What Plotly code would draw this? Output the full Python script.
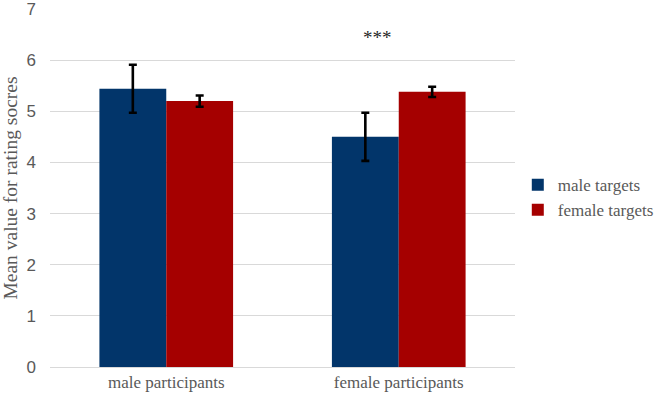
import plotly.graph_objects as go

categories = ["male participants", "female participants"]
series_names = ["male targets", "female targets"]
male_targets = [5.44, 4.50]
female_targets = [5.20, 5.38]
male_err = [0.47, 0.47]
female_err = [0.11, 0.10]
y_ticks = [0, 1, 2, 3, 4, 5, 6, 7]

SERIF = "Liberation Serif, Times New Roman, serif"
SANS = "Liberation Sans, Arial, sans-serif"

fig = go.Figure()
fig.add_trace(go.Bar(
    x=categories, y=male_targets, name=series_names[0],
    marker=dict(color="#02356A", line=dict(width=0)),
    error_y=dict(type="data", array=male_err, color="black", thickness=2.6, width=4),
))
fig.add_trace(go.Bar(
    x=categories, y=female_targets, name=series_names[1],
    marker=dict(color="#A50000", line=dict(width=0)),
    error_y=dict(type="data", array=female_err, color="black", thickness=2.6, width=4),
))

fig.add_annotation(x=categories[1], y=6.45, text="***", showarrow=False,
                   xshift=-21, font=dict(family=SERIF, size=19, color="#262626"))

fig.update_layout(
    width=660, height=400,
    margin=dict(l=50, r=145, t=9, b=33, autoexpand=False),
    plot_bgcolor="white", paper_bgcolor="white",
    barmode="group", bargap=0.425, bargroupgap=0,
    showlegend=True,
    legend=dict(x=1.006, xref="paper", xanchor="left", y=0.473, yanchor="middle",
                font=dict(family=SERIF, size=17, color="#595959"),
                tracegroupgap=14, itemwidth=30),
    xaxis=dict(showline=True, linecolor="#D9D9D9", linewidth=1, automargin=False,
               tickfont=dict(family=SERIF, size=17, color="#595959"),
               ticks=""),
    yaxis=dict(range=[0, 7], tickvals=y_ticks, showgrid=True, gridcolor="#D9D9D9",
               gridwidth=1, zeroline=False, automargin=False,
               ticklabeloverflow="allow", ticklabelstandoff=13,
               tickfont=dict(family=SANS, size=17, color="#595959"),
               title=dict(text="Mean value for rating socres",
                          font=dict(family=SERIF, size=19.5, color="#595959"),
                          standoff=4)),
)

fig.write_html("out.html", config={"displayModeBar": False},
               post_script="document.body.style.margin='0';document.body.style.padding='0';")
